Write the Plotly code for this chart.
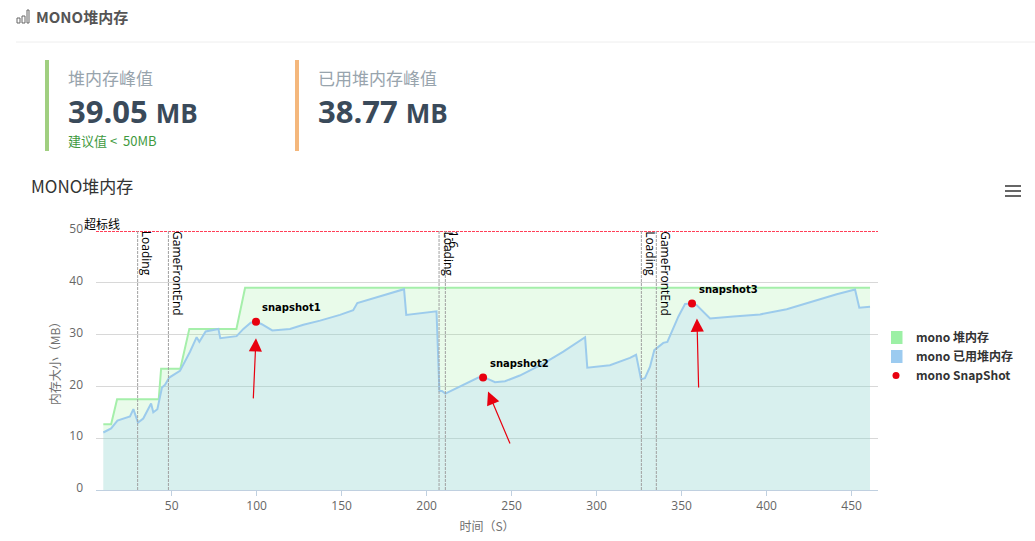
import plotly.graph_objects as go

# heap (green) and used heap (blue)
heap_x = [9.8, 14.4, 17.9, 42.4, 43.8, 55.1, 60.4, 88.1, 93.2, 460.8]
heap_y = [12.7, 12.7, 17.5, 17.5, 23.4, 23.4, 31.1, 31.1, 39.05, 39.05]

used_x = [9.8, 14.4, 18.1, 25.5, 27.5, 30.2, 33.3, 37.9, 39.2, 41.6, 44.3, 46.1, 48.6, 54.9,
          60.8, 64.7, 66.3, 70.0, 77.5, 78.6, 88.2, 92.2, 96.5, 99.6, 103.0, 109.2, 119.6,
          127.5, 137.3, 149.0, 156.8, 159.2, 186.7, 188.0, 205.8, 207.5, 209.0, 211.0,
          230.4, 233.2, 236.3, 240.2, 246.1, 254.8, 268.6, 280.4, 293.2, 294.5, 307.8,
          319.6, 323.2, 326.1, 328.4, 331.4, 333.9, 339.2, 341.6, 348.1, 352.0, 356.1,
          358.8, 366.7, 380.4, 396.1, 411.8, 429.4, 441.2, 452.0, 454.5, 460.8]
used_y = [11.1, 11.9, 13.4, 14.2, 15.6, 13.0, 13.8, 16.7, 15.0, 15.6, 19.8, 20.3, 21.7, 23.0,
          26.7, 29.5, 28.6, 30.6, 31.1, 29.3, 29.7, 31.1, 32.3, 32.5, 32.0, 30.8, 31.1,
          31.9, 32.7, 33.8, 34.7, 36.1, 38.77, 33.8, 34.5, 19.1, 19.1, 18.6,
          21.7, 21.7, 21.4, 20.8, 21.0, 22.1, 24.4, 26.7, 29.5, 23.6, 24.1,
          25.5, 26.1, 21.4, 21.6, 23.8, 27.0, 28.4, 28.6, 33.5, 35.9, 36.0,
          35.7, 33.1, 33.5, 33.9, 34.9, 36.7, 37.8, 38.7, 35.2, 35.4]

snap_x = [99.6, 233.2, 356.1]
snap_y = [32.5, 21.7, 36.0]
snap_names = ["snapshot1", "snapshot2", "snapshot3"]

# hand drawn arrows on the screenshot
arrow_tail_x = [98.0, 249.4, 360.0]
arrow_tail_y = [17.4, 8.7, 19.5]
arrow_head_x = [99.6, 236.1, 359.0]
arrow_head_y = [29.3, 19.0, 33.1]

event_x = [30.0, 48.1, 207.3, 211.0, 326.3, 335.1]
event_names = ["Loading", "GameFrontEnd", "Loading", "1-6", "Loading", "GameFrontEnd"]

limit_x = [5.5, 465.5]
limit_y = [50, 50]
limit_name = "超标线"

x_ticks = [50, 100, 150, 200, 250, 300, 350, 400, 450]
y_ticks = [0, 10, 20, 30, 40, 50]

W, H = 1035, 541
L, R, T, B = 96, 878, 231, 490
CJK = "Noto Sans CJK SC"
NUM = "Open Sans, Noto Sans CJK SC"


def px(v):
    return (v - L) / (R - L)


def py(v):
    return (B - v) / (B - T)


def page_text(x, y, text, size, color, font=CJK, anchor="left"):
    # annotations keep about 2px of padding on the left
    return dict(xref="paper", yref="paper", x=px(x - 2), y=py(y), text=text, showarrow=False,
                xanchor=anchor, yanchor="middle", font=dict(family=font, size=size, color=color))


def page_rect(x0, y0, x1, y1, fill=None, line=None, width=1):
    return dict(type="rect", xref="paper", yref="paper", x0=px(x0), x1=px(x1), y0=py(y0), y1=py(y1),
                fillcolor=fill or "rgba(0,0,0,0)", line=dict(color=line or "rgba(0,0,0,0)", width=width),
                layer="above")


fig = go.Figure()
fig.add_trace(go.Scatter(x=heap_x, y=heap_y, mode="lines", fill="tozeroy", showlegend=False,
                         fillcolor="rgba(145,235,150,0.2)", line=dict(color="#a5efaa", width=2)))
fig.add_trace(go.Scatter(x=used_x, y=used_y, mode="lines", fill="tozeroy", showlegend=False,
                         fillcolor="rgba(148,201,255,0.2)", line=dict(color="#9ccbec", width=2)))
fig.add_trace(go.Scatter(x=limit_x, y=limit_y, mode="lines", showlegend=False, cliponaxis=False,
                         line=dict(color="#ff0022", width=1.5, dash="3px,1px")))
fig.add_trace(go.Scatter(x=snap_x, y=snap_y, mode="markers", showlegend=False,
                         marker=dict(color="#e8000f", size=8)))

# legend entries only, the swatches are solid in the reference
fig.add_trace(go.Scatter(x=[None], y=[None], mode="markers", name="mono 堆内存",
                         marker=dict(symbol="square", color="#9cf0a5", size=13)))
fig.add_trace(go.Scatter(x=[None], y=[None], mode="markers", name="mono 已用堆内存",
                         marker=dict(symbol="square", color="#9ccbf0", size=13)))
fig.add_trace(go.Scatter(x=[None], y=[None], mode="markers", name="mono SnapShot",
                         marker=dict(color="#e8000f", size=7)))

shapes = []
annotations = []

annotations.append(dict(x=0, xref="paper", y=limit_y[0], yref="y", text=limit_name, showarrow=False,
                        xanchor="center", yanchor="bottom", xshift=6, yshift=-3,
                        font=dict(family=CJK, size=12, color="#000000")))

for x, name in zip(event_x, event_names):
    shapes.append(dict(type="line", xref="x", yref="paper", x0=x, x1=x, y0=0, y1=1, layer="above",
                       line=dict(color="#a0a0a0", width=1, dash="3px,1px")))
    annotations.append(dict(x=x, y=limit_y[0], xref="x", yref="y", text=name, showarrow=False, textangle=90,
                            xanchor="center", yanchor="top", xshift=9, yshift=2,
                            font=dict(family="Open Sans", size=12, color="#000000")))

for x, y, name in zip(snap_x, snap_y, snap_names):
    annotations.append(dict(x=x, y=y, xref="x", yref="y", text="<b>%s</b>" % name, showarrow=False,
                            xshift=36, yshift=14, font=dict(family="DejaVu Sans", size=10, color="#000000")))

for tx, ty, hx, hy in zip(arrow_tail_x, arrow_tail_y, arrow_head_x, arrow_head_y):
    annotations.append(dict(x=hx, y=hy, ax=tx, ay=ty, xref="x", yref="y", axref="x", ayref="y", text="",
                            showarrow=True, arrowhead=2, arrowsize=2.2, arrowwidth=1.2, arrowcolor="#e8000f"))

# page furniture around the chart
shapes.append(dict(type="line", xref="paper", yref="paper", x0=px(16), x1=px(1035), y0=py(42), y1=py(42),
                   line=dict(color="#eeeeee", width=1)))
shapes.append(page_rect(17, 18, 20, 23, line="#666666"))
shapes.append(page_rect(22, 16, 25, 23, line="#666666"))
shapes.append(page_rect(27, 10, 29, 23, line="#666666"))
shapes.append(page_rect(45, 60, 49, 151, fill="#a0cf80"))
shapes.append(page_rect(295, 60, 299, 151, fill="#f4b77c"))
for y in [186, 191, 196]:
    shapes.append(page_rect(1005, y - 1, 1021, y + 1, fill="#666666"))

annotations.append(page_text(36, 16, "<b>MONO堆内存</b>", 15, "#555555"))
annotations.append(page_text(68, 77, "堆内存峰值", 17, "#98a4ad"))
annotations.append(page_text(68, 111, "<b>39.05 <span style='font-size:26px'>MB</span></b>", 31, "#3a4a5a", NUM))
annotations.append(page_text(68, 140, "建议值\u00a0&lt;\u00a0\u00a050MB", 13, "#3f9a3f"))
annotations.append(page_text(318, 77, "已用堆内存峰值", 17, "#98a4ad"))
annotations.append(page_text(318, 111, "<b>38.77 <span style='font-size:26px'>MB</span></b>", 31, "#3a4a5a", NUM))
annotations.append(page_text(31, 186, "MONO堆内存", 17, "#333333"))

fig.update_layout(
    width=W, height=H, autosize=False,
    # the legend sits outside the plot area, it must not squeeze the axes
    margin=dict(l=L, r=W - R, t=T, b=H - B, pad=0, autoexpand=False),
    plot_bgcolor="white", paper_bgcolor="white",
    font=dict(family=CJK, size=12, color="#666666"),
    shapes=shapes,
    annotations=annotations,
    legend=dict(x=px(891), y=py(323), xanchor="left", yanchor="top", bgcolor="rgba(0,0,0,0)",
                indentation=-15, itemsizing="trace",
                font=dict(family=CJK, size=12, color="#333333", weight="bold"),
                itemclick=False, itemdoubleclick=False),
    xaxis=dict(range=[5.5, 465.5], tickvals=x_ticks, showgrid=False, zeroline=False, showline=True,
               linecolor="#c0d0e0", ticks="outside", ticklen=5, tickcolor="#c0d0e0",
               tickfont=dict(family=NUM, size=12, color="#666666"),
               title=dict(text="时间（S）", standoff=9, font=dict(size=12, color="#707070"))),
    yaxis=dict(range=[0, 50], tickvals=y_ticks, showgrid=True, gridcolor="#d8d8d8", zeroline=False,
               ticks="", ticklabelstandoff=12, ticklabelshift=-2,
               tickfont=dict(family=NUM, size=12, color="#666666"),
               title=dict(text="内存大小（MB）", standoff=6, font=dict(size=12, color="#707070"))),
)

# the page margin would push the fixed size figure out of the window
fig.write_html("out.html", config=dict(displayModeBar=False),
               post_script="document.body.style.margin='0';document.body.style.height='541px';"
                           "document.body.style.overflow='hidden';document.documentElement.style.overflow='hidden';")
